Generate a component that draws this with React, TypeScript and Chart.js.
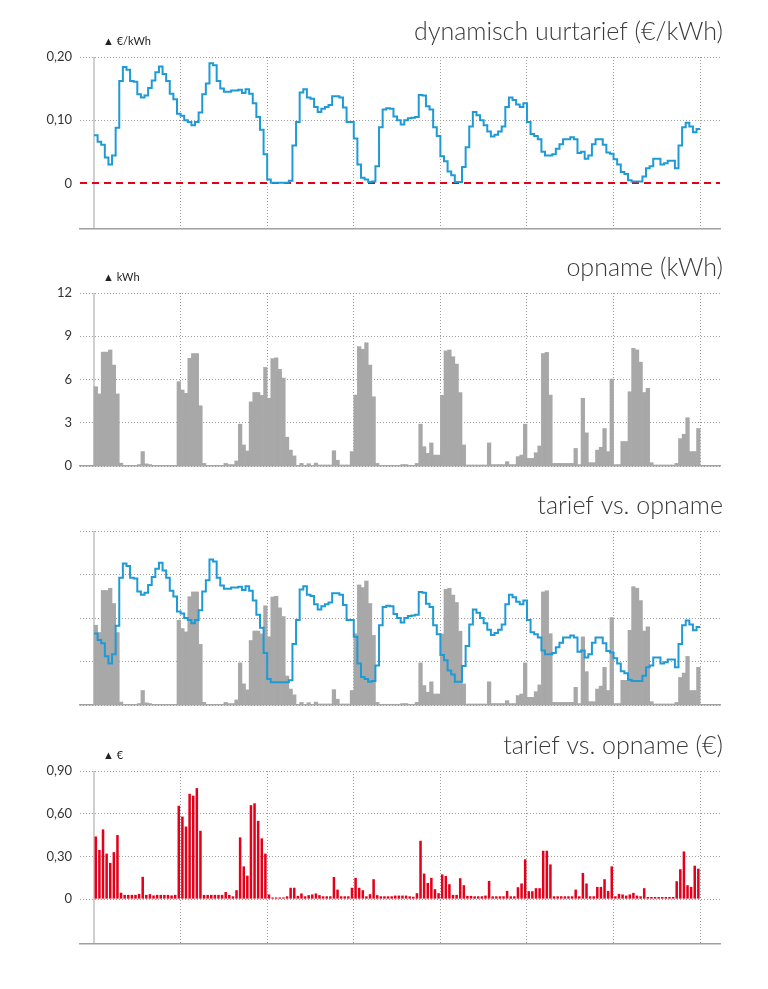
import React, { useEffect, useRef } from "react";
import { Chart, registerables } from "chart.js";
Chart.register(...registerables);

// ---------- data (hourly, 7 days x 24 h) ----------
const tariefDag1 = [0.076, 0.066, 0.061, 0.041, 0.030, 0.044, 0.088, 0.162, 0.184, 0.180, 0.162, 0.161, 0.141, 0.136, 0.139, 0.151, 0.163, 0.176, 0.185, 0.173, 0.162, 0.142, 0.133, 0.110];
const tariefDag2 = [0.107, 0.100, 0.097, 0.092, 0.097, 0.112, 0.141, 0.158, 0.190, 0.187, 0.162, 0.150, 0.145, 0.145, 0.147, 0.147, 0.148, 0.143, 0.149, 0.142, 0.127, 0.105, 0.085, 0.046];
const tariefDag3 = [0.006, 0.001, 0.001, 0.001, 0.001, 0.001, 0.004, 0.060, 0.097, 0.144, 0.149, 0.136, 0.134, 0.121, 0.113, 0.118, 0.121, 0.124, 0.138, 0.138, 0.136, 0.120, 0.097, 0.097];
const tariefDag4 = [0.071, 0.030, 0.009, 0.006, 0.002, 0.003, 0.027, 0.089, 0.117, 0.119, 0.118, 0.106, 0.100, 0.093, 0.100, 0.103, 0.104, 0.105, 0.140, 0.139, 0.122, 0.117, 0.089, 0.075];
const tariefDag5 = [0.043, 0.035, 0.019, 0.013, 0.002, 0.002, 0.026, 0.057, 0.090, 0.113, 0.108, 0.100, 0.092, 0.082, 0.074, 0.077, 0.082, 0.090, 0.121, 0.136, 0.132, 0.125, 0.121, 0.127];
const tariefDag6 = [0.097, 0.078, 0.075, 0.070, 0.050, 0.044, 0.044, 0.046, 0.055, 0.062, 0.070, 0.070, 0.073, 0.070, 0.048, 0.050, 0.039, 0.044, 0.062, 0.070, 0.070, 0.061, 0.049, 0.047];
const tariefDag7 = [0.038, 0.030, 0.018, 0.015, 0.005, 0.003, 0.003, 0.003, 0.011, 0.024, 0.027, 0.039, 0.039, 0.030, 0.032, 0.036, 0.036, 0.024, 0.060, 0.089, 0.096, 0.090, 0.081, 0.086];

const opnameDag1 = [5.5, 5.0, 7.9, 7.9, 8.05, 7.0, 5.0, 0.2, 0.03, 0.03, 0.03, 0.03, 0.1, 1.0, 0.15, 0.1, 0.03, 0.03, 0.03, 0.03, 0.03, 0.03, 0.03, 5.85];
const opnameDag2 = [5.27, 5.04, 7.47, 7.8, 7.8, 4.18, 0.18, 0.02, 0.02, 0.02, 0.02, 0.02, 0.18, 0.1, 0.1, 0.35, 2.9, 1.46, 1.04, 4.45, 5.1, 5.1, 4.9, 6.84];
const opnameDag3 = [4.7, 7.45, 7.5, 6.7, 6.1, 2.0, 1.1, 0.7, 0.03, 0.18, 0.04, 0.16, 0.04, 0.2, 0.07, 0.07, 0.07, 0.07, 1.06, 0.4, 0.07, 0.07, 0.07, 1.0];
const opnameDag4 = [4.92, 8.28, 8.1, 8.55, 7.0, 4.8, 0.18, 0.05, 0.05, 0.05, 0.05, 0.05, 0.05, 0.1, 0.1, 0.05, 0.05, 0.18, 2.9, 1.34, 0.88, 1.6, 0.76, 0.76];
const opnameDag5 = [4.9, 7.98, 8.05, 7.58, 7.07, 5.09, 1.46, 0.07, 0.07, 0.07, 0.07, 0.07, 0.07, 1.6, 0.1, 0.1, 0.1, 0.1, 0.3, 0.1, 0.1, 0.65, 0.76, 2.9];
const opnameDag6 = [0.53, 0.53, 0.92, 1.39, 7.8, 7.88, 4.92, 0.18, 0.18, 0.18, 0.18, 0.18, 0.18, 1.22, 0.1, 4.7, 2.3, 0.23, 0.23, 1.1, 1.3, 2.6, 1.0, 6.03];
const opnameDag7 = [0.1, 0.1, 1.7, 1.7, 5.15, 8.16, 8.05, 7.2, 5.1, 5.39, 0.23, 0.07, 0.07, 0.07, 0.07, 0.07, 0.07, 0.18, 1.9, 2.2, 3.35, 1.0, 1.0, 2.6];

const kostenDag1 = [0.44, 0.345, 0.49, 0.32, 0.255, 0.33, 0.45, 0.045, 0.03, 0.03, 0.03, 0.03, 0.037, 0.157, 0.03, 0.035, 0.026, 0.03, 0.03, 0.03, 0.03, 0.026, 0.03, 0.656];
const kostenDag2 = [0.58, 0.51, 0.74, 0.727, 0.78, 0.48, 0.03, 0.03, 0.03, 0.03, 0.03, 0.03, 0.05, 0.03, 0.02, 0.063, 0.434, 0.23, 0.165, 0.66, 0.673, 0.55, 0.427, 0.32];
const kostenDag3 = [0.033, 0.012, 0.012, 0.012, 0.012, 0.02, 0.08, 0.08, 0.023, 0.04, 0.02, 0.028, 0.033, 0.04, 0.028, 0.02, 0.02, 0.02, 0.156, 0.067, 0.02, 0.02, 0.02, 0.08];
const kostenDag4 = [0.15, 0.08, 0.063, 0.02, 0.035, 0.14, 0.028, 0.02, 0.02, 0.02, 0.02, 0.025, 0.025, 0.025, 0.025, 0.02, 0.017, 0.042, 0.41, 0.18, 0.114, 0.15, 0.07, 0.042];
const kostenDag5 = [0.174, 0.163, 0.105, 0.03, 0.03, 0.147, 0.098, 0.023, 0.023, 0.02, 0.02, 0.02, 0.025, 0.128, 0.02, 0.02, 0.02, 0.02, 0.058, 0.02, 0.02, 0.084, 0.11, 0.28];
const kostenDag6 = [0.056, 0.056, 0.077, 0.077, 0.34, 0.34, 0.244, 0.02, 0.02, 0.02, 0.02, 0.02, 0.02, 0.067, 0.02, 0.184, 0.11, 0.02, 0.02, 0.086, 0.086, 0.14, 0.058, 0.23];
const kostenDag7 = [0.02, 0.037, 0.033, 0.025, 0.033, 0.044, 0.025, 0.02, 0.077, 0.015, 0.015, 0.015, 0.015, 0.015, 0.015, 0.015, 0.015, 0.126, 0.21, 0.335, 0.098, 0.086, 0.235, 0.214];

const dagGrenzen = [0, 24, 48, 72, 96, 120, 144, 168];
const tariefTicks = [0, 0.1, 0.2];
const opnameTicks = [0, 3, 6, 9, 12];
const kostenTicks = [0, 0.3, 0.6, 0.9];

const titels = [
  "dynamisch uurtarief (€/kWh)",
  "opname (kWh)",
  "tarief vs. opname",
  "tarief vs. opname (€)",
];
const eenheden = ["▲ €/kWh", "▲ kWh", "", "▲ €"];

// ---------- derived tables ----------
const tarief = [...tariefDag1, ...tariefDag2, ...tariefDag3, ...tariefDag4, ...tariefDag5, ...tariefDag6, ...tariefDag7];
const opname = [...opnameDag1, ...opnameDag2, ...opnameDag3, ...opnameDag4, ...opnameDag5, ...opnameDag6, ...opnameDag7];
const kosten = [...kostenDag1, ...kostenDag2, ...kostenDag3, ...kostenDag4, ...kostenDag5, ...kostenDag6, ...kostenDag7];

const eindUur = dagGrenzen[dagGrenzen.length - 1];
const tariefPunten = [
  ...tarief.map((v, i) => ({ x: i, y: v })),
  { x: eindUur, y: tarief[tarief.length - 1] },
];
const opnamePunten = opname.map((v, i) => ({ x: i + 0.5, y: v }));
const kostenPunten = kosten.map((v, i) => ({ x: i + 0.5, y: v }));

// ---------- style ----------
const BLUE = "#1e9ad6";
const GREY_BAR = "#a8a8a8";
const RED = "#e2001a";
const GRID = "#9e9e9e";
const FONT = "Lato, 'Open Sans', sans-serif";

const fmtKomma = (v: number) => (v === 0 ? "0" : v.toFixed(2).replace(".", ","));

function xAs() {
  return {
    type: "linear",
    min: -3.88,
    max: 173.5,
    offset: false,
    afterBuildTicks: (s: any) => {
      s.ticks = dagGrenzen.map((v) => ({ value: v }));
    },
    afterFit: (s: any) => {
      s.height = 0;
    },
    ticks: { display: false },
    grid: {
      offset: false,
      drawTicks: false,
      color: (c: any) => (c.index === 0 ? "#cfcfcf" : GRID),
      lineWidth: (c: any) => (c.index === 0 ? 2 : 1),
    },
    border: {
      display: true,
      color: "#a0a0a0",
      width: 1.5,
      dash: (c: any) => (c.index === 0 ? [] : [1, 2]),
    },
  };
}

function yAs(min: number, max: number, ticks: number[], labels: boolean, fmt: (v: number) => string, zeroRed = false) {
  return {
    type: "linear",
    position: "left",
    min,
    max,
    afterBuildTicks: (s: any) => {
      s.ticks = ticks.map((v) => ({ value: v }));
    },
    afterFit: (s: any) => {
      s.width = 80;
    },
    ticks: {
      display: labels,
      padding: 8,
      color: "#333",
      font: { family: FONT, size: 13 },
      callback: (v: any) => fmt(Number(v)),
    },
    grid: {
      drawTicks: false,
      color: (c: any) => (zeroRed && c.tick && c.tick.value === 0 ? RED : GRID),
      lineWidth: (c: any) => (zeroRed && c.tick && c.tick.value === 0 ? 2 : 1),
    },
    border: {
      display: false,
      dash: (c: any) => (zeroRed && c.tick && c.tick.value === 0 ? [7, 5] : [1, 2]),
    },
  };
}

const tekstPlugin = {
  id: "teksten",
  afterDraw(chart: any, _args: any, opts: any) {
    const { ctx, chartArea } = chart;
    ctx.save();
    ctx.fillStyle = "#3a3a3a";
    ctx.font = `300 25px ${FONT}`;
    ctx.textAlign = "right";
    ctx.textBaseline = "alphabetic";
    ctx.fillText(opts.titel, chartArea.right + 3, chartArea.top - 17);
    if (opts.eenheid) {
      ctx.fillStyle = "#222";
      ctx.font = `11px ${FONT}`;
      ctx.textAlign = "left";
      ctx.textBaseline = "middle";
      ctx.fillText(opts.eenheid, 103, chartArea.top - 16);
    }
    ctx.restore();
  },
};

function basisOpties(titel: string, eenheid: string, padTop: number, padBottom: number, scales: any) {
  return {
    responsive: false,
    animation: false,
    devicePixelRatio: 1,
    layout: { padding: { left: 0, right: 48, top: padTop, bottom: padBottom } },
    plugins: {
      legend: { display: false },
      title: { display: false },
      tooltip: { enabled: false },
      teksten: { titel, eenheid },
    },
    scales,
  };
}

function Paneel({ top, height, maak }: { top: number; height: number; maak: (c: HTMLCanvasElement) => Chart }) {
  const ref = useRef<HTMLCanvasElement | null>(null);
  useEffect(() => {
    if (!ref.current) return;
    const chart = maak(ref.current);
    return () => chart.destroy();
  }, []);
  return (
    <canvas
      ref={ref}
      width={768}
      height={height}
      style={{ position: "absolute", left: 0, top, width: 768, height, display: "block" }}
    />
  );
}

const maakTarief = (c: HTMLCanvasElement) =>
  new Chart(c, {
    type: "line",
    data: {
      datasets: [
        {
          data: tariefPunten,
          borderColor: BLUE,
          borderWidth: 2,
          pointRadius: 0,
          stepped: true,
          fill: false,
        },
      ],
    },
    options: basisOpties(titels[0], eenheden[0], 57, 15, {
      x: xAs(),
      y: yAs(-0.0725, 0.2, tariefTicks, true, fmtKomma, true),
    }) as any,
    plugins: [tekstPlugin],
  } as any);

const maakOpname = (c: HTMLCanvasElement) =>
  new Chart(c, {
    type: "bar",
    data: {
      datasets: [
        {
          data: opnamePunten,
          backgroundColor: GREY_BAR,
          borderWidth: 0,
          barPercentage: 1,
          categoryPercentage: 1,
        },
      ],
    },
    options: basisOpties(titels[1], eenheden[1], 48, 19, {
      x: xAs(),
      y: yAs(0, 12, opnameTicks, true, (v) => String(v)),
    }) as any,
    plugins: [tekstPlugin],
  } as any);

const maakCombi = (c: HTMLCanvasElement) =>
  new Chart(c, {
    type: "bar",
    data: {
      datasets: [
        {
          type: "line",
          data: tariefPunten,
          borderColor: BLUE,
          borderWidth: 2,
          pointRadius: 0,
          stepped: true,
          fill: false,
          yAxisID: "y2",
          order: 0,
        },
        {
          type: "bar",
          data: opnamePunten,
          backgroundColor: GREY_BAR,
          borderWidth: 0,
          barPercentage: 1,
          categoryPercentage: 1,
          yAxisID: "y",
          order: 1,
        },
      ],
    },
    options: basisOpties(titels[2], eenheden[2], 46, 20, {
      x: xAs(),
      y: yAs(0, 12, opnameTicks, false, (v) => String(v)),
      y2: { type: "linear", position: "right", display: false, min: -0.034, max: 0.234 },
    }) as any,
    plugins: [tekstPlugin],
  } as any);

const maakKosten = (c: HTMLCanvasElement) =>
  new Chart(c, {
    type: "bar",
    data: {
      datasets: [
        {
          data: kostenPunten,
          backgroundColor: RED,
          borderWidth: 0,
          barPercentage: 0.7,
          categoryPercentage: 1,
        },
      ],
    },
    options: basisOpties(titels[3], eenheden[3], 46, 45, {
      x: xAs(),
      y: yAs(-0.315, 0.9, kostenTicks, true, fmtKomma),
    }) as any,
    plugins: [tekstPlugin],
  } as any);

export default function App() {
  return (
    <div style={{ position: "absolute", left: 0, top: 0, width: 768, height: 989, background: "#fff", overflow: "hidden" }}>
      <Paneel top={0} height={245} maak={maakTarief} />
      <Paneel top={245} height={240} maak={maakOpname} />
      <Paneel top={485} height={240} maak={maakCombi} />
      <Paneel top={725} height={264} maak={maakKosten} />
    </div>
  );
}
